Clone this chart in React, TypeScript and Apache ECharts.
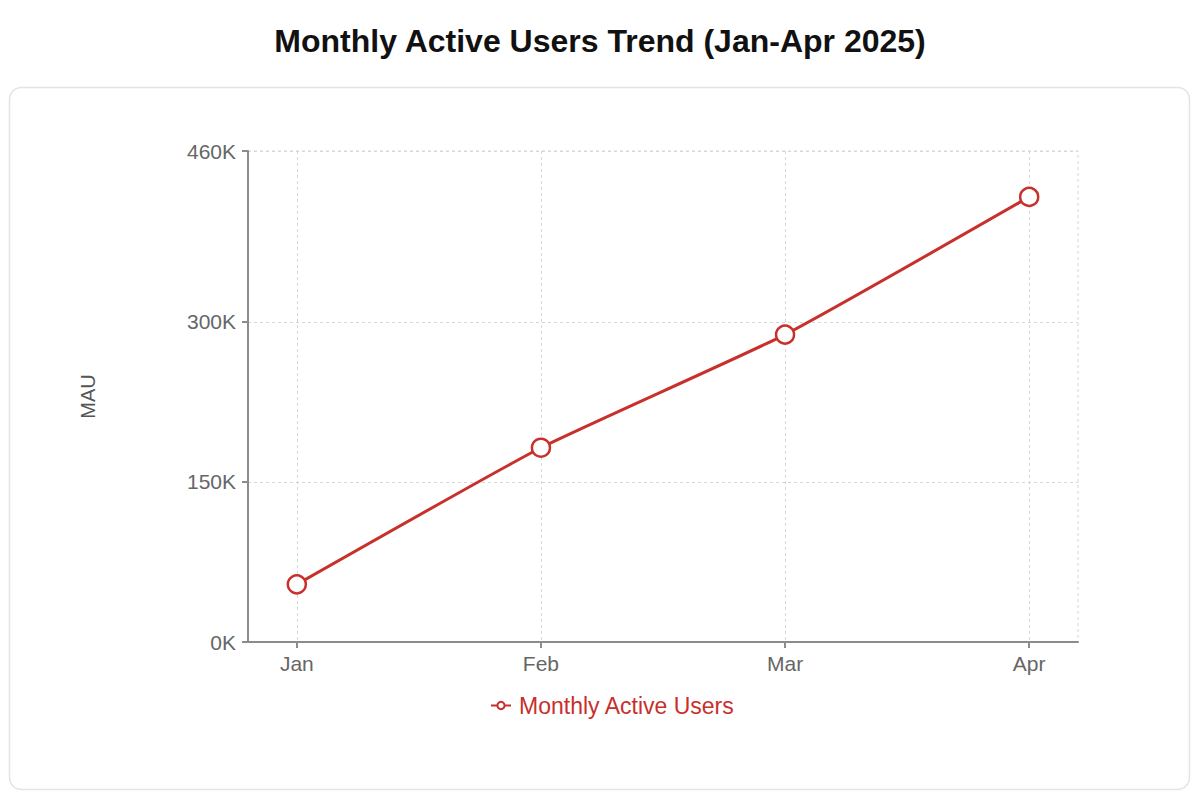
import React, { useEffect, useRef } from "react";
import * as echarts from "echarts";

const months = ["Jan", "Feb", "Mar", "Apr"];
const mauValues = [54000, 182000, 288000, 417000];
const yTicks = [0, 150000, 300000, 460000];
const xTicks = [0, 1, 2, 3];

const RED = "#c8302c";
const FONT = "'Liberation Sans', Arial, sans-serif";

export default function App() {
  const ref = useRef<HTMLDivElement>(null);

  useEffect(() => {
    document.body.style.margin = "0";
    const chart = echarts.init(ref.current!, null, { renderer: "svg" });
    const seriesData = mauValues.map((v, i) => [i, v]);
    chart.setOption({
      animation: false,
      backgroundColor: "#ffffff",
      textStyle: { fontFamily: FONT },
      title: {
        text: "Monthly Active Users Trend (Jan-Apr 2025)",
        left: "center",
        top: 20,
        textStyle: { fontSize: 32, fontWeight: "bold", color: "#111", fontFamily: FONT },
      },
      graphic: [
        {
          type: "rect",
          z: -10,
          silent: true,
          shape: { x: 9.5, y: 87.5, width: 1180, height: 702, r: 12 },
          style: { fill: "#ffffff", stroke: "#e4e4e8", lineWidth: 1.5 },
        },
      ],
      grid: {
        left: 248,
        right: 122,
        top: 151,
        bottom: 160,
        show: true,
        borderColor: "#d6d6de",
        borderWidth: 1,
        borderType: [3, 3],
        backgroundColor: "transparent",
      },
      legend: {
        bottom: 80,
        left: 485,
        itemWidth: 20,
        itemHeight: 9,
        itemGap: 10,
        textStyle: { color: RED, fontSize: 23, fontFamily: FONT, padding: [0, 0, 0, 3] },
        data: ["Monthly Active Users"],
      },
      xAxis: {
        type: "value",
        min: -0.2,
        max: 3.2,
        axisLine: { show: true, onZero: false, lineStyle: { color: "#8c8c8c", width: 2 } },
        axisTick: { show: true, length: 6, customValues: xTicks, lineStyle: { color: "#8c8c8c", width: 2 } },
        axisLabel: {
          customValues: xTicks,
          formatter: (v: number) => months[Math.round(v)] ?? "",
          color: "#666",
          fontSize: 21,
          margin: 11,
          fontFamily: FONT,
        },
        splitLine: { show: true, lineStyle: { color: "#d6d6de", type: [3, 3], width: 1 } },
      },
      yAxis: {
        type: "value",
        min: 0,
        max: 460000,
        name: "MAU",
        nameLocation: "middle",
        nameGap: 150,
        nameRotate: 90,
        nameTextStyle: { color: "#555", fontSize: 20, fontFamily: FONT },
        axisLine: { show: true, onZero: false, lineStyle: { color: "#8c8c8c", width: 2 } },
        axisTick: { show: true, length: 6, customValues: yTicks, lineStyle: { color: "#8c8c8c", width: 2 } },
        axisLabel: {
          customValues: yTicks,
          formatter: (v: number) => Math.round(v / 1000) + "K",
          color: "#666",
          fontSize: 21,
          margin: 12,
          fontFamily: FONT,
        },
        splitLine: { show: true, lineStyle: { color: "#d6d6de", type: [3, 3], width: 1 } },
      },
      series: [
        {
          name: "Monthly Active Users",
          type: "line",
          data: seriesData,
          smooth: 0.15,
          symbol: "circle",
          symbolSize: 18,
          itemStyle: { color: "#ffffff", borderColor: RED, borderWidth: 2.5 },
          lineStyle: { color: RED, width: 3 },
          z: 5,
        },
      ],
    });
    return () => chart.dispose();
  }, []);

  return (
    <div
      ref={ref}
      style={{ position: "fixed", left: 0, top: 0, width: 1200, height: 802 }}
    />
  );
}
